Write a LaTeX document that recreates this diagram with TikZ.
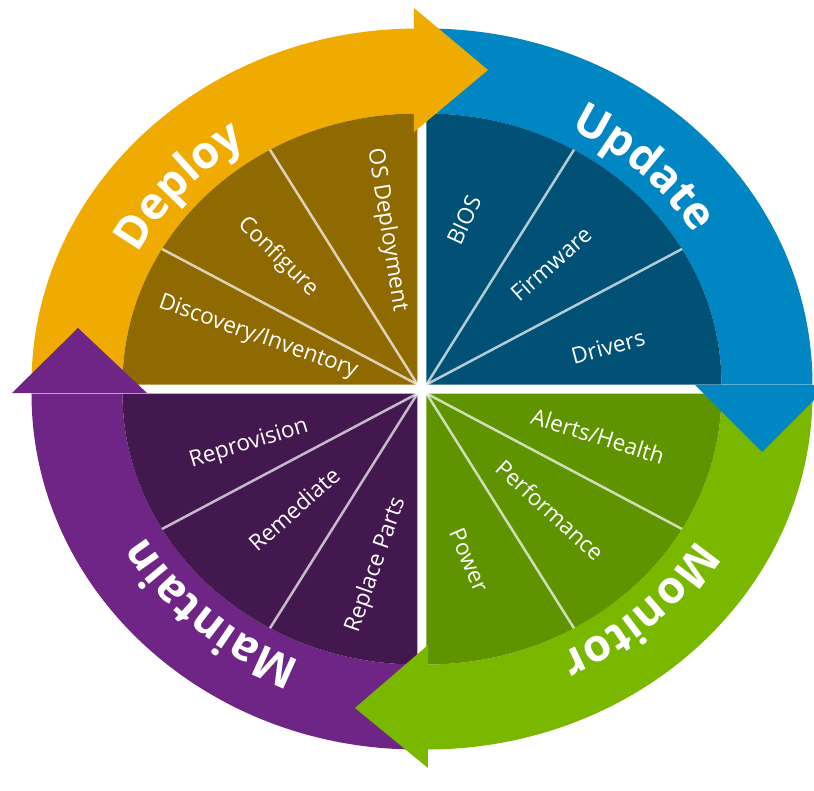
\documentclass[tikz,border=0pt]{standalone}
\usepackage{fontspec}
\setmainfont{Open Sans}
\usepackage{tikz}
\usetikzlibrary{decorations.text}
\definecolor{deployband}{HTML}{F0AB00}
\definecolor{deploywedge}{HTML}{8F6A00}
\definecolor{updateband}{HTML}{0086C3}
\definecolor{updatewedge}{HTML}{005175}
\definecolor{monitorband}{HTML}{7AB800}
\definecolor{monitorwedge}{HTML}{5F9400}
\definecolor{maintainband}{HTML}{6E2585}
\definecolor{maintainwedge}{HTML}{43184F}
\newcommand{\ringfont}{\fontsize{45}{45}\selectfont\bfseries\color{white}}

\begin{document}
\begin{tikzpicture}[x=1pt,y=1pt,
		spoke/.style={draw=white, draw opacity=0.7, line width=2.5pt},
		item/.style={text=white, font=\fontsize{22.5}{22.5}\selectfont, inner sep=0pt},
		ringtext/.style={decorate, decoration={text along path, text align=center, text={|\ringfont|#1}}}]
		\useasboundingbox (-422,-401) rectangle (392,389);
		%Quadranti
		\foreach \sx/\sy/\a/\band/\wedge in {-4.5/4.5/180/deployband/deploywedge, 4.5/4.5/90/updateband/updatewedge, 4.5/-4.5/0/monitorband/monitorwedge, -4.5/-4.5/270/maintainband/maintainwedge}{
			\begin{scope}[shift={(\sx,\sy)}]
				\fill[\band] (\a:386pt and 356pt) arc[start angle=\a, delta angle=-90, x radius=386pt, y radius=356pt] -- ({\a-90}:295pt and 271pt) arc[start angle=\a-90, delta angle=90, x radius=295pt, y radius=271pt] -- cycle;
				\fill[\wedge] (0,0) -- (\a:295pt and 271pt) arc[start angle=\a, delta angle=-90, x radius=295pt, y radius=271pt] -- cycle;
				\draw[spoke] (0,0) -- ({\a-30}:295pt and 271pt);
				\draw[spoke] (0,0) -- ({\a-60}:295pt and 271pt);
			\end{scope}
		}
		%Frecce
		\fill[deployband] (-8,257) -- (-8,381) -- (66,319) -- cycle;
		\fill[updateband] (273,4) -- (407,4) -- (340,-63) -- cycle;
		\fill[monitorband] (6,-256) -- (6,-379) -- (-67,-319) -- cycle;
		\fill[maintainband] (-410,-4) -- (-275,-4) -- (-344,61) -- cycle;
		%Titoli
		\path[ringtext=Deploy] (184:320pt and 294pt) arc[start angle=184, end angle=94, x radius=320pt, y radius=294pt];
		\path[ringtext=Update] (91:320pt and 294pt) arc[start angle=91, end angle=1, x radius=320pt, y radius=294pt];
		\path[ringtext=Monitor] (-1.5:320pt and 294pt) arc[start angle=-1.5, end angle=-91.5, x radius=320pt, y radius=294pt];
		\path[ringtext=Maintain] (273:320pt and 294pt) arc[start angle=273, end angle=183, x radius=320pt, y radius=294pt];
		%Deploy
		\node[item, rotate=-81] (osdeploy) at (-35,159) {OS Deployment};
		\node[item, rotate=-44] (configure) at (-144,132) {Configure};
		\node[item, rotate=-19.5] (discovery) at (-164,52) {Discovery/Inventory};
		%Update
		\node[item, rotate=65] (bios) at (42,169) {BIOS};
		\node[item, rotate=41.5] (firmware) at (129,125) {Firmware};
		\node[item, rotate=15] (drivers) at (186,42) {Drivers};
		%Monitor
		\node[item, rotate=-17.4] (alerts) at (176,-47) {Alerts/Health};
		\node[item, rotate=-42.4] (performance) at (128,-121) {Performance};
		\node[item, rotate=-66.7] (power) at (47,-171) {Power};
		%Maintain
		\node[item, rotate=16.9] (reprovision) at (-173,-55) {Reprovision};
		\node[item, rotate=41.5] (remediate) at (-128,-120) {Remediate};
		\node[item, rotate=70.8] (replace) at (-46,-176) {Replace Parts};
	\end{tikzpicture}
\end{document}
